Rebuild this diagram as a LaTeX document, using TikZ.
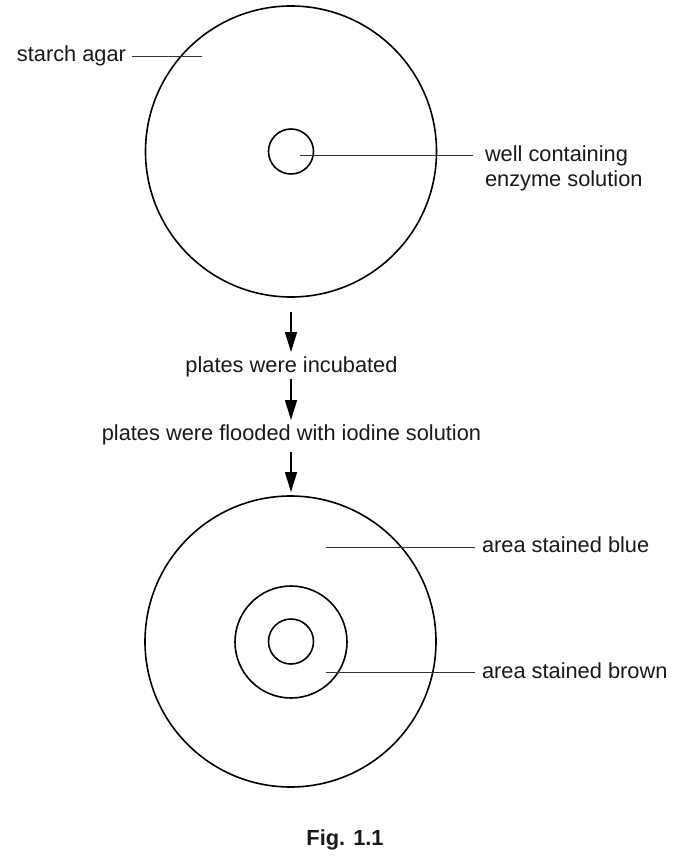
\documentclass[tikz,border=0pt]{standalone}
\usepackage{fontspec}
\setmainfont{Liberation Sans}
\usetikzlibrary{arrows.meta}
\begin{document}
\begin{tikzpicture}[x=1pt,y=-1pt,
  plate/.style={draw, circle, inner sep=0pt, outer sep=0pt, line width=1.6pt},
  lbl/.style={inner sep=0pt, outer sep=0pt, text=black!90, font=\fontsize{21.8}{26}\selectfont},
  leader/.style={line width=0.9pt, black!80},
  flow/.style={line width=1.5pt, -{Triangle[length=20pt,width=12pt]}}]
\useasboundingbox (0,0) rectangle (686,858);
% top plate
\node[plate, minimum size=291pt] (plateA) at (291,151.5) {};
\node[plate, minimum size=45pt] (wellA) at (291,151.5) {};
% bottom plate
\node[plate, minimum size=291pt] (plateB) at (290.5,641.5) {};
\node[plate, minimum size=112pt] (ringB) at (291,642) {};
\node[plate, minimum size=45pt] (wellB) at (291,641.5) {};
% labels
\node[lbl, anchor=base east] (starch) at (126,62) {starch agar};
\node[lbl, anchor=base west] (wellTxtA) at (485,161.5) {well containing};
\node[lbl, anchor=base west] (wellTxtB) at (485,186.5) {enzyme solution};
\node[lbl, anchor=base west] (blue) at (482,552) {area stained blue};
\node[lbl, anchor=base west] (brown) at (482,678.3) {area stained brown};
\node[lbl, anchor=base] (incub) at (291.5,372.7) {plates were incubated};
\node[lbl, anchor=base] (flood) at (291.5,440) {plates were flooded with iodine solution};
\node[lbl, anchor=base, font=\fontsize{21.8}{26}\selectfont\bfseries] (fig) at (345,845.5) {Fig. 1.1};
% leader ends
\coordinate (starchIn) at (202,56.7);
\coordinate (wellIn) at (300,155);
\coordinate (blueIn) at (326,547.5);
\coordinate (brownIn) at (326,672.7);
\draw[leader, shorten >=6pt] (starchIn) -- (starchIn -| starch.east);
\draw[leader, shorten >=12pt] (wellIn) -- (wellIn -| wellTxtA.west);
\draw[leader, shorten >=7pt] (blueIn) -- (blueIn -| blue.west);
\draw[leader, shorten >=7pt] (brownIn) -- (brownIn -| brown.west);
% flow arrows
\coordinate (a1s) at (291,312);
\coordinate (a1e) at (291,352);
\coordinate (a2s) at (291,379);
\coordinate (a2e) at (291,420);
\coordinate (a3s) at (291,452);
\coordinate (a3e) at (291,492);
\draw[flow] (a1s) -- (a1e);
\draw[flow] (a2s) -- (a2e);
\draw[flow] (a3s) -- (a3e);
\end{tikzpicture}
\end{document}
